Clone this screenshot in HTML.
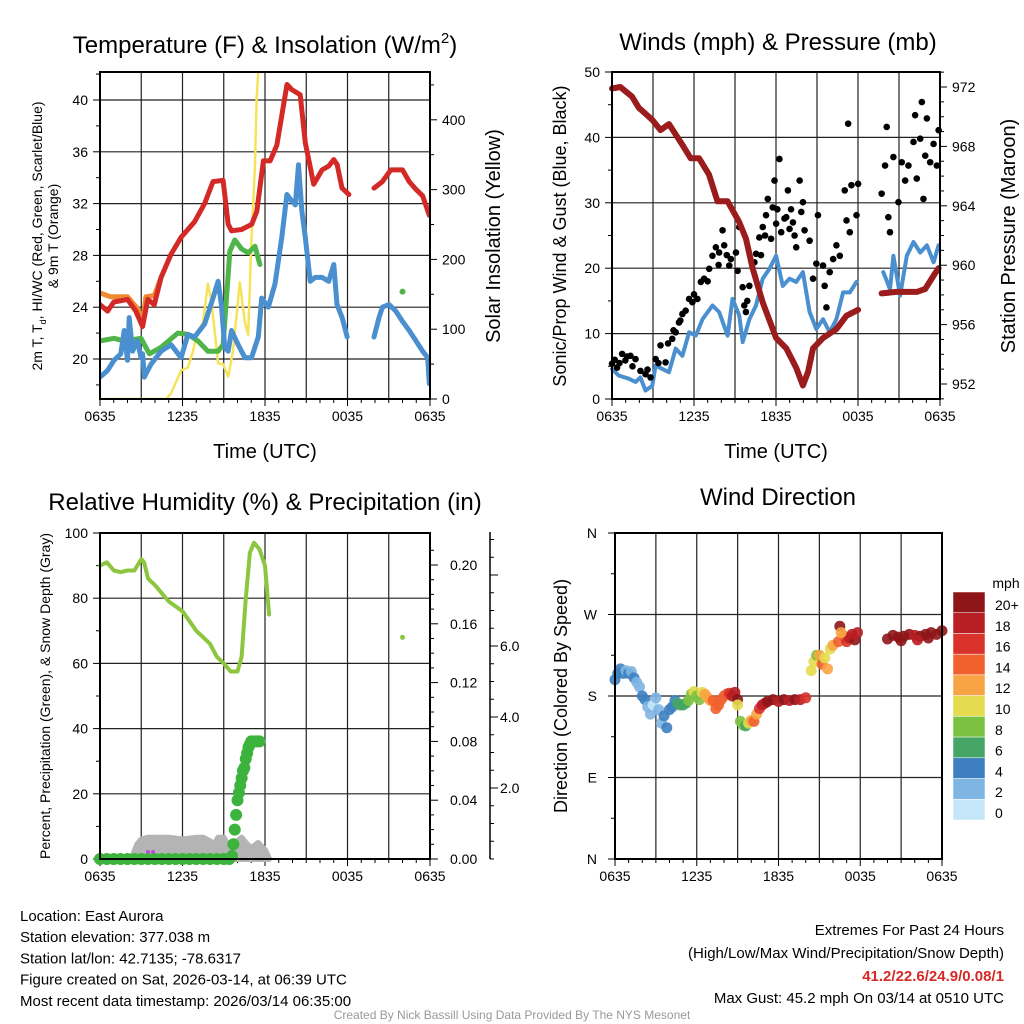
<!DOCTYPE html>
<html><head><meta charset="utf-8"><style>
body{margin:0;background:#fff;}
svg{display:block;font-family:"Liberation Sans",sans-serif;}
</style></head><body>
<svg id="c" width="1024" height="1024" viewBox="0 0 1024 1024"></svg>
<script>
// ---------- data ----------
const xLabels=["0635","1235","1835","0035","0635"];
// panel 1 (hours since 0635, values)
const tRedH=[0,0.55,1,2,2.6,3.1,3.47,3.95,4.44,5.17,5.9,6.88,7.61,8.22,8.95,9.32,9.56,10.3,11.03,11.4,11.88,12.37,12.86,13.6,13.95,14.56,14.93,15.54,16.15,16.64,17,17.25,17.6,18.1];
const tRedV=[24.2,23.7,24.4,24.6,23.7,22.5,24.6,24.2,26.3,28.1,29.4,30.6,32,33.7,33.8,30.4,29.9,30,30.4,31.4,35.3,35.3,36.5,41.2,40.8,40.4,36.7,33.5,34.6,34.9,35.4,35,33.2,32.7];
const tRed2H=[19.93,20.54,21.15,22,22.49,22.98,23.46,23.95];
const tRed2V=[33.2,33.7,34.6,34.6,33.7,33.1,32.6,31.1];
const tBlueH=[0,0.54,1.02,1.51,1.76,2,2.12,2.37,2.73,2.98,3.1,3.22,3.71,4.44,5.17,5.9,6.39,6.88,7.61,8.22,8.59,8.83,9.07,9.32,9.56,10.05,10.54,11.02,11.51,11.76,12.24,12.73,13.22,13.59,13.95,14.2,14.44,14.68,14.93,15.29,15.66,16.15,16.63,17,17.24,17.61,17.98];
const tBlueV=[18.6,19.1,19.9,20.4,22.2,19.9,23.2,20.6,21.4,20.1,20.4,18.6,19.6,20.6,21.1,20.1,21.9,21.7,22.7,24.7,26,24.2,20.9,20.6,22.2,21.1,20.1,20.1,21.7,24.7,24,25.8,29.4,32.7,32.2,31.9,35,31.4,29.4,26,26.3,26.3,26,27.3,24.2,23.2,21.7];
const tBlue2H=[19.93,20.29,20.54,21.02,21.51,22,22.49,22.98,23.46,23.83,23.95];
const tBlue2V=[21.7,23.2,24,24.2,23.7,22.9,22.2,21.4,20.6,20.1,18.1];
const tdH=[0,1.02,1.76,2.98,3.59,4.44,5.66,6.39,7.12,7.85,8.59,8.95,9.2,9.44,9.8,10.29,10.78,11.27,11.63];
const tdV=[21.4,21.6,21.4,21.6,20.4,20.9,22,21.9,21.4,20.6,20.6,21.1,24.7,28.3,29.2,28.5,28.2,28.7,27.3];
const t9H=[0,0.78,2,2.73,3.1,3.34,3.95,4.44];
const t9V=[25.1,24.8,24.8,23.9,22.9,24.8,24.9,26.3];
const solH=[0,4.8,5.17,5.9,6.39,6.76,7.12,7.49,7.85,8.1,8.34,8.59,8.95,9.32,9.68,10.17,10.54,10.78,11.02,11.27,11.39,11.51];
const solV=[0,0,8,41,45,68,97,110,165,140,97,51,50,32,70,167,110,92,230,335,430,470];
// panel 2
const presH=[0,0.61,1.47,1.96,2.94,3.55,4.17,5.15,5.76,6.37,7.1,7.72,8.46,9.31,9.8,10.29,11.03,12.01,12.75,13.48,13.97,14.34,14.71,15.44,16.42,17.16,18.01];
const presV=[971.9,972,971.35,970.6,969.8,969.1,969.5,968.1,967.2,967.2,966.1,964.3,964.3,962.9,961.8,959.8,957.5,955.1,954.4,953.1,951.9,952.8,954.4,955.1,955.7,956.6,957];
const pres2H=[19.73,20.83,22.3,22.92,23.53,23.9];
const pres2V=[958.1,958.2,958.2,958.4,959.3,959.8];
const windH=[0,0.49,1.23,1.72,2.08,2.45,2.94,3.19,3.68,4.17,4.66,5.15,5.64,6.13,6.62,7.35,7.84,8.46,8.82,9.31,9.56,10.05,10.54,11.03,11.52,12.01,12.5,12.99,13.48,13.97,14.46,14.95,15.44,15.93,16.42,16.91,17.4,17.89];
const windV=[4.6,3.6,3.1,2.6,3.3,1.3,2,5.1,4.6,4.1,7.7,6.6,10.2,9.7,12.2,14.3,13.3,9.7,15.3,12.8,8.7,12.2,14.3,18.4,19.9,21.9,17.3,18.4,17.9,19.4,13.3,10.7,12.2,10.2,12.2,16.3,16.3,17.9];
const wind2H=[19.85,20.34,20.59,21.08,21.57,22.06,22.55,23.04,23.53,23.9];
const wind2V=[19.4,16.8,21.9,15.8,21.9,24,22.4,23.5,20.9,23.5];
const gustH=[0,0.37,0.74,0.98,1.35,1.72,2.08,2.45,2.82,3.19,3.55,3.92,4.41,4.66,4.9,5.15,5.39,5.64,5.88,6.25,6.5,6.74,7.11,7.35,7.6,7.84,8.09,8.21,8.58,8.7,9.07,9.19,9.31,9.56,9.68,9.8,10.05,10.42,10.54,10.78,11.03,11.27,11.4,11.64,11.76,11.89,12.01,12.25,12.38,12.62,12.75,12.87,12.99,13.24,13.36,13.48,13.73,13.85,13.97,14.09,14.46,14.71,14.95,15.07,15.44,15.56,15.69,15.93,16.18,16.42,16.67,17.03,17.16,17.28,17.4,17.52,17.89,18.01,19.73,19.98,20.1,20.22,20.34,20.59,20.96,21.2,21.45,21.69,22.06,22.18,22.3,22.55,22.67,22.79,22.92,23.04,23.28,23.53,23.77,23.9,0.2,0.55,1.1,1.5,2.6,3.4,4.1,4.5,5.0,6.0,7.0,7.8,8.4,9.9,10.9,11.2,12.1,13.1];
const gustV=[5.4,4.8,6.9,5.9,6.6,6.1,4.3,3.8,3.3,6.1,8.2,5.6,9.2,10.2,11.7,13,13.5,15.3,14.8,15.3,17.9,18.4,19.9,21.9,23.2,22.4,25.8,23.5,20.4,21.4,22.4,19.6,26.3,17.1,14.3,13.3,17.3,20.9,22.2,24.7,26.3,28.1,30.6,24.5,29.3,33.4,26.8,36.7,25.5,27.6,27.8,31.9,26,27,25,23.2,33.4,28.6,30.1,25.8,24.2,18.4,20.7,28.1,20.4,17.3,14,19.4,21.4,23.5,21.9,31.9,27.3,42.1,25.5,32.7,28.1,32.9,31.4,35.7,41.6,27.8,25.5,37,30.1,36.2,33.4,35.7,39.3,43.4,33.7,39.8,45.4,30.6,37.2,42.9,36.2,39,35.7,41.1,6,5.5,6.5,5,4.5,5.5,8.5,10.5,12,16,18,20.5,22,15,22,25,29,29];
// panel 3
const rhH=[0,0.5,1,1.5,2,2.5,3,3.2,3.5,4,5,6,7,8,8.5,9,9.5,10,10.3,10.6,10.9,11.2,11.6,12,12.3];
const rhV=[90,91,88.5,88,88.5,88.5,92,91,86,84,79,76,70,66,62,60,57.5,57.5,62,80,94,97,95,90,75];
const precH=[0,0.5,1,1.5,2,2.5,3,3.5,4,4.5,5,5.5,6,6.5,7,7.5,8,8.5,9,9.4,9.6,9.7,9.8,9.9,10,10.1,10.2,10.3,10.4,10.5,10.6,10.7,10.8,10.9,11,11.2,11.4,11.6];
const precV=[0,0,0,0,0,0,0,0,0,0,0,0,0,0,0,0,0,0,0,0,0.002,0.01,0.02,0.03,0.04,0.045,0.05,0.055,0.06,0.062,0.068,0.072,0.076,0.078,0.08,0.08,0.08,0.08];
const snowH=[2.3,2.7,3,3.5,5,6,7,7.5,8,8.3,8.6,9,9.3,9.6,10,10.3,10.6,11,11.5,12,12.3];
const snowV=[0,0.4,0.55,0.6,0.6,0.55,0.6,0.6,0.5,0.4,0.6,0.6,0.35,0.1,0.5,0.6,0.45,0.3,0.45,0.25,0];
// panel 4
const dirH=[0,0.2,0.4,0.6,0.8,1,1.2,1.4,1.6,1.8,2,2.2,2.4,2.6,2.8,3,3.2,3.4,3.6,3.8,4,4.2,4.4,4.6,4.8,5,5.2,5.4,5.6,5.8,6,6.2,6.4,6.6,6.8,7,7.2,7.4,7.6,7.8,8,8.2,8.4,8.6,8.8,9,9,9.2,9.4,9.6,9.8,10,10.2,10.4,10.6,10.8,11,11.2,11.6,12,12.4,12.8,13.2,13.6,14,14.4,14.6,14.8,15,15.2,15.4,15.6,15.8,16,16.4,16.8,17,17.2,17.6,20,20.4,20.8,21.2,21.6,22,22.4,22.8,23.2,23.6,24,21,22.2,23,17.4,17.8,16.5,16.6];
const dirV=[198,205,210,205,208,205,207,200,195,190,180,176,168,160,170,178,165,150,158,145,165,168,175,172,170,170,172,175,182,185,180,176,184,182,178,175,175,166,170,176,180,182,183,180,184,176,170,152,148,147,150,153,152,160,166,170,172,174,176,174,176,175,176,176,178,208,218,225,225,215,222,210,232,236,240,246,240,244,242,243,247,245,246,248,247,246,248,250,248,252,241,242,244,248,250,257,250];
const dirS=[4,4,4,4,3,4,2,4,2,2,4,4,2,2,1,3,2,2,4,4,4,4,4,6,7,7,6,8,8,10,9,8,10,12,12,12,14,14,15,14,14,15,16,18,18,20,10,8,8,6,10,12,14,12,16,18,18,20,20,18,20,18,20,18,16,10,10,8,12,14,10,12,10,12,14,14,16,18,20,20,20,20,20,20,18,20,20,20,20,20,20,18,20,18,18,20,12];
const cbLabels=["20+","18","16","14","12","10","8","6","4","2","0"];
const cbColors=["#8e1518","#b81e23","#d8322a","#f0612e","#f9a444","#e6da4e","#7cc242","#45a564","#3d7fc0","#7fb5e2","#c4e6f8"];
// ---------- helpers ----------
const svg=document.getElementById('c');
const NS="http://www.w3.org/2000/svg";
function mk(tag,attrs,parent){const e=document.createElementNS(NS,tag);for(const k in attrs)e.setAttribute(k,attrs[k]);(parent||svg).appendChild(e);return e;}
function txt(x,y,s,size,anchor,extra){const e=mk('text',Object.assign({x:x,y:y,'font-size':size,'text-anchor':anchor||'middle',fill:'#000'},extra||{}));e.textContent=s;return e;}
function line(x1,y1,x2,y2,w,col){return mk('line',{x1:x1,y1:y1,x2:x2,y2:y2,stroke:col||'#000','stroke-width':w||1});}
function path(H,V,fx,fy,col,w,name){let d='';let pen=false;for(let i=0;i<H.length;i++){if(V[i]==null){pen=false;continue;}d+=(pen?'L':'M')+fx(H[i]).toFixed(1)+' '+fy(V[i]).toFixed(1);pen=true;}const p=mk('path',{d:d,fill:'none',stroke:col,'stroke-width':w,'stroke-linejoin':'round','stroke-linecap':'round'});return p;}
function xAxis(L,R,B,T,fx){for(let h=0;h<=24;h+=3){line(fx(h),T,fx(h),B,1.2,'#222');}
 for(let h=0;h<=24;h++){line(fx(h),B,fx(h),B+(h%6==0?7:4),1);}
 xLabels.forEach((s,i)=>{const t=txt(fx(i*6),B+22,s,14);});}
function frame(L,R,T,B){mk('rect',{x:L,y:T,width:R-L,height:B-T,fill:'none',stroke:'#000','stroke-width':2});}
function clip(id,L,T,W,H){const cp=mk('clipPath',{id:id});mk('rect',{x:L,y:T,width:W,height:H},cp);return mk('g',{'clip-path':'url(#'+id+')'});}
// ---------- panel 1 ----------
{const L=100,R=430,T=72,B=399;
const fx=h=>L+h*(R-L)/24, yL=v=>359-(v-20)*12.95, yR=v=>399-v*0.698;
for(let v=20;v<=40;v+=4){line(L,yL(v),R,yL(v),1.2,'#222');txt(L-12,yL(v)+5,v,14,'end');}
for(let v=18;v<=42;v+=2){line(L-(v%4==0?7:4),yL(v),L,yL(v),1);}
for(let v=0;v<=400;v+=100){txt(R+12,yR(v)+5,v,14,'start');}
for(let v=0;v<=450;v+=50){line(R,yR(v),R+(v%100==0?7:4),yR(v),1);}
xAxis(L,R,B,T,fx);
const g=clip('cp1',L,T,R-L,B-T);
g.appendChild(path(solH,solV,fx,yR,'#f6e35a',2.5,'insolation-line'));
g.appendChild(path(t9H,t9V,fx,yL,'#f08a30',5,'9m-temp-line'));
g.appendChild(path(tdH,tdV,fx,yL,'#4fb548',5,'dewpoint-line'));
g.appendChild(path(tBlueH,tBlueV,fx,yL,'#4a8fcf',5,'windchill-line'));
g.appendChild(path(tBlue2H,tBlue2V,fx,yL,'#4a8fcf',5,'windchill-line-2'));
g.appendChild(path(tRedH,tRedV,fx,yL,'#d42a27',5,'temp-line'));
g.appendChild(path(tRed2H,tRed2V,fx,yL,'#d42a27',5,'temp-line-2'));
mk('circle',{cx:fx(22),cy:yL(25.2),r:3,fill:'#4fb548'},g);
frame(L,R,T,B);
const tt=txt(265,53,'',24);tt.innerHTML='Temperature (F) &amp; Insolation (W/m<tspan dy="-10" font-size="15">2</tspan><tspan dy="10">)</tspan>';
txt(265,458,'Time (UTC)',20);
const yl=txt(0,0,'',14);yl.setAttribute('transform','translate(42,236) rotate(-90)');yl.innerHTML='2m T, T<tspan dy="4" font-size="9">d</tspan><tspan dy="-4">, HI/WC (Red, Green, Scarlet/Blue)</tspan>';
const yl2=txt(0,0,'& 9m T (Orange)',14);yl2.setAttribute('transform','translate(58,236) rotate(-90)');
const yr=txt(0,0,'Solar Insolation (Yellow)',20);yr.setAttribute('transform','translate(500,236) rotate(-90)');
}
// ---------- panel 2 ----------
{const L=612,R=940,T=72,B=399;
const fx=h=>L+h*(R-L)/24, yW=v=>399-v*6.54, yP=v=>384-(v-952)*14.85;
for(let v=0;v<=50;v+=10){if(v>0&&v<50)line(L,yW(v),R,yW(v),1.2,'#222');txt(L-12,yW(v)+5,v,14,'end');}
for(let v=0;v<=50;v+=5){line(L-(v%10==0?7:4),yW(v),L,yW(v),1);}
for(let v=952;v<=972;v+=4){txt(R+12,yP(v)+5,v,14,'start');}
for(let v=951;v<=973;v++){line(R,yP(v),R+(v%4==0?7:4),yP(v),1);}
xAxis(L,R,B,T,fx);
path(windH,windV,fx,yW,'#4a8fcf',4,'sustained-wind-line');
path(wind2H,wind2V,fx,yW,'#4a8fcf',4,'sustained-wind-line-2');
gustH.forEach((h,i)=>{const c=mk('circle',{cx:fx(h),cy:yW(gustV[i]),r:3.3,fill:'#000'});});
path(presH,presV,fx,yP,'#9b1c1c',6,'pressure-line');
path(pres2H,pres2V,fx,yP,'#9b1c1c',6,'pressure-line-2');
frame(L,R,T,B);
txt(778,50,'Winds (mph) & Pressure (mb)',24);
txt(776,458,'Time (UTC)',20);
const yl=txt(0,0,'Sonic/Prop Wind & Gust (Blue, Black)',18);yl.setAttribute('transform','translate(566,236) rotate(-90)');
const yr=txt(0,0,'Station Pressure (Maroon)',20);yr.setAttribute('transform','translate(1015,236) rotate(-90)');
}
// ---------- panel 3 ----------
{const L=100,R=430,T=533,B=859;
const fx=h=>L+h*(R-L)/24, yRH=v=>859-v*3.26, yPr=v=>859-v*1470, yS=v=>859-v*35.5;
for(let v=0;v<=100;v+=20){if(v>0&&v<100)line(L,yRH(v),R,yRH(v),1.2,'#222');txt(L-12,yRH(v)+5,v,14,'end');}
for(let v=0;v<=100;v+=10){line(L-(v%20==0?7:4),yRH(v),L,yRH(v),1);}
for(let i=0;i<=5;i++){const v=i*0.04;txt(R+20,yPr(v)+5,v.toFixed(2),14,'start');}
for(let v=0;v<=0.22;v+=0.01){line(R,yPr(v),R+(Math.round(v*100)%4==0?8:4),yPr(v),1);}
line(490,532,490,859,1.5);
for(let v=0;v<=9;v+=0.5){if(yS(v)<533)break;line(490,yS(v),490+(v%2==0&&v>0?8:4),yS(v),1);}
[2,4,6].forEach(v=>txt(500,yS(v)+5,v.toFixed(1),14,'start'));
xAxis(L,R,B,T,fx);
let d='M'+fx(snowH[0])+' '+yS(0);snowH.forEach((h,i)=>{d+='L'+fx(h).toFixed(1)+' '+yS(snowV[i]).toFixed(1);});d+='Z';
const sp=mk('path',{d:d,fill:'#b4b4b4',stroke:'#b4b4b4','stroke-width':6,'stroke-linejoin':'round'});
path(rhH,rhV,fx,yRH,'#8cc63f',4,'rh-line');
mk('circle',{cx:fx(22),cy:yRH(68),r:2.5,fill:'#8cc63f'});
mk('circle',{cx:148,cy:852,r:2,fill:'#c040e0'});mk('circle',{cx:153,cy:852,r:2,fill:'#c040e0'});
for(let h=0;h<=9.4;h+=0.12){mk('circle',{cx:fx(h),cy:yPr(0),r:4,fill:'#3cb33c'});}
precH.forEach((h,i)=>{const c=mk('circle',{cx:fx(h),cy:yPr(precV[i]),r:6,fill:'#3cb33c'});});
frame(L,R,T,B);
txt(265,510,'Relative Humidity (%) & Precipitation (in)',24);
const yl=txt(0,0,'Percent, Precipitation (Green), & Snow Depth (Gray)',14);yl.setAttribute('transform','translate(50,696) rotate(-90)');
}
// ---------- panel 4 ----------
{const L=615,R=942,T=533,B=859;
const fx=h=>L+h*(R-L)/24, yD=d=>859-d*0.9056;
["N","E","S","W","N"].forEach((s,i)=>{const y=yD(i*90);if(i>0&&i<4)line(L,y,R,y,1.2,'#222');line(L-7,y,L,y,1);txt(L-18,y+5,s,14,'end');});
for(let d=0;d<=360;d+=45)line(L-4,yD(d),L,yD(d),1);
xAxis(L,R,B,T,fx);
function col(s){const idx=Math.min(10,Math.floor(s/2));return cbColors[10-idx];}
dirH.forEach((h,i)=>{const c=mk('circle',{cx:fx(h),cy:yD(dirV[i]),r:5.5,fill:col(dirS[i]),'fill-opacity':0.9});});
frame(L,R,T,B);
txt(778,505,'Wind Direction',24);
const yl=txt(0,0,'Direction (Colored By Speed)',18);yl.setAttribute('transform','translate(567,696) rotate(-90)');
const bh=228/11;
cbColors.forEach((c,i)=>{const r=mk('rect',{x:953,y:592+i*bh,width:32,height:bh,fill:c,stroke:'#fff','stroke-width':0.5});
 txt(995,605+i*20.8+5,cbLabels[i],14,'start');});
txt(1006,588,'mph',14);
}
// ---------- footer text ----------
const info=["Location: East Aurora","Station elevation: 377.038 m","Station lat/lon: 42.7135; -78.6317","Figure created on Sat, 2026-03-14, at 06:39 UTC","Most recent data timestamp: 2026/03/14 06:35:00"];
info.forEach((s,i)=>{const t=txt(20,921+i*21.2,s,15,'start');});
txt(1004,935,'Extremes For Past 24 Hours',15,'end');
txt(1004,958,'(High/Low/Max Wind/Precipitation/Snow Depth)',15,'end');
txt(1004,981,'41.2/22.6/24.9/0.08/1',15,'end',{fill:'#d42a27','font-weight':'bold'});
txt(1004,1003,'Max Gust: 45.2 mph On 03/14 at 0510 UTC',15,'end');
txt(512,1019,'Created By Nick Bassill Using Data Provided By The NYS Mesonet',12,'middle',{fill:'#999'});
</script>
</body></html>
